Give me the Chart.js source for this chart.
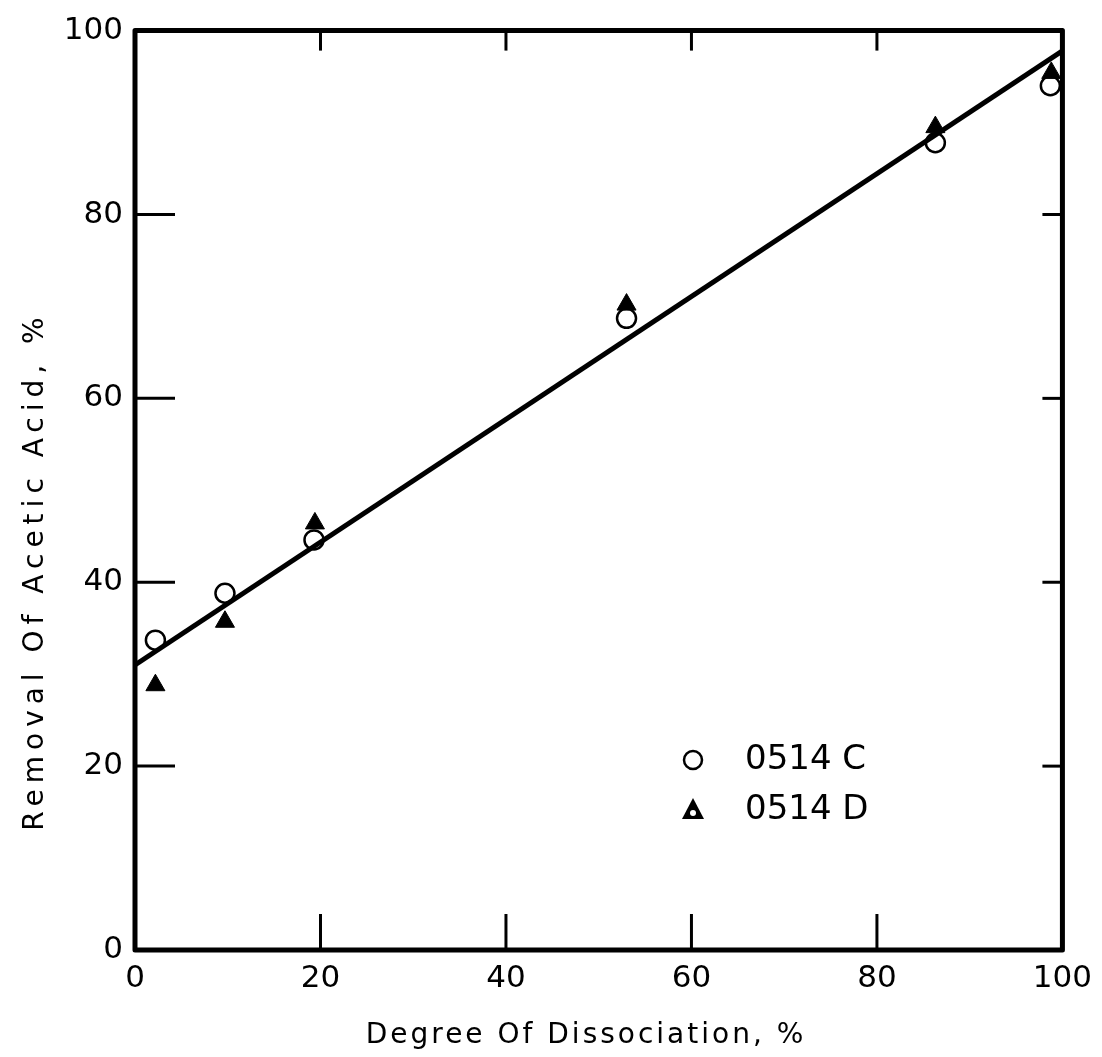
<!DOCTYPE html>
<html><head><meta charset="utf-8">
<script src="https://cdn.jsdelivr.net/npm/chart.js@4"></script>
<style>html,body{margin:0;padding:0;background:#fff}</style>
</head><body>
<canvas id="c" width="1102" height="1057"></canvas>
<script>
const dissocC  = [2.2, 9.7, 19.3, 53.0, 86.3, 98.7];
const removalC = [33.7, 38.8, 44.6, 68.7, 87.8, 94.0];
const dissocD  = [2.2, 9.7, 19.4, 53.0, 86.3, 98.8];
const removalD = [28.8, 35.7, 46.4, 70.2, 89.5, 95.4];
const fitX = [0, 100];
const fitY = [31.0, 97.8];
const xTicks = [0, 20, 40, 60, 80, 100];
const yTicks = [0, 20, 40, 60, 80, 100];
const seriesLabels = ['0514 C', '0514 D'];
const xTitle = 'Degree Of Dissociation, %';
const yTitle = 'Removal Of Acetic Acid, %';

const FONT = '"DejaVu Sans", sans-serif';
const pts = (xs, ys) => xs.map((x, i) => ({x, y: ys[i]}));

const framePlugin = {
  id: 'frame',
  afterDraw(chart) {
    const {ctx, chartArea: a, scales: {x, y}} = chart;
    ctx.save();
    ctx.strokeStyle = '#000';
    ctx.lineWidth = 3;
    xTicks.slice(1, -1).forEach(v => {
      const px = x.getPixelForValue(v);
      ctx.beginPath(); ctx.moveTo(px, a.bottom); ctx.lineTo(px, a.bottom - 36); ctx.stroke();
      ctx.beginPath(); ctx.moveTo(px, a.top); ctx.lineTo(px, a.top + 20); ctx.stroke();
    });
    yTicks.slice(1, -1).forEach(v => {
      const py = y.getPixelForValue(v);
      ctx.beginPath(); ctx.moveTo(a.left, py); ctx.lineTo(a.left + 40, py); ctx.stroke();
      ctx.beginPath(); ctx.moveTo(a.right, py); ctx.lineTo(a.right - 20, py); ctx.stroke();
    });
    ctx.lineWidth = 5;
    ctx.lineJoin = 'round';
    ctx.strokeRect(a.left, a.top, a.right - a.left, a.bottom - a.top);
    // axis titles (letter-spaced, as in the original)
    ctx.fillStyle = '#000';
    ctx.font = '28px ' + FONT;
    ctx.textAlign = 'center';
    ctx.textBaseline = 'alphabetic';
    ctx.letterSpacing = '3px';
    ctx.fillText(xTitle, 586, 1043);
    ctx.save();
    ctx.translate(43, 571);
    ctx.rotate(-Math.PI / 2);
    ctx.letterSpacing = '6px';
    ctx.fillText(yTitle, 0, 0);
    ctx.restore();
    ctx.letterSpacing = '0px';
    // legend
    const lx = 693, ly = [760, 810];
    ctx.lineWidth = 2.5;
    ctx.beginPath(); ctx.arc(lx, ly[0], 9, 0, Math.PI * 2); ctx.stroke();
    ctx.beginPath(); ctx.moveTo(lx, ly[1] - 12); ctx.lineTo(lx + 11, ly[1] + 9); ctx.lineTo(lx - 11, ly[1] + 9); ctx.closePath(); ctx.fill();
    ctx.fillStyle = '#fff';
    ctx.beginPath(); ctx.arc(lx, ly[1] + 3, 3, 0, Math.PI * 2); ctx.fill();
    ctx.fillStyle = '#000';
    ctx.font = '34px ' + FONT;
    ctx.textBaseline = 'middle';
    ctx.textAlign = 'left';
    ctx.fillText(seriesLabels[0], 745, ly[0]);
    ctx.fillText(seriesLabels[1], 745, ly[1]);
    ctx.restore();
  }
};

new Chart(document.getElementById('c'), {
  type: 'scatter',
  data: {
    datasets: [
      {
        type: 'line', data: pts(fitX, fitY), borderColor: '#000', borderWidth: 5,
        pointRadius: 0, fill: false, order: 3
      },
      {
        label: seriesLabels[1], data: pts(dissocD, removalD), pointStyle: 'triangle',
        pointRadius: 11, backgroundColor: '#000', borderColor: '#000', borderWidth: 1, order: 2
      },
      {
        label: seriesLabels[0], data: pts(dissocC, removalC), pointStyle: 'circle',
        pointRadius: 9.5, backgroundColor: 'rgba(255,255,255,0)', borderColor: '#000', borderWidth: 2.5, order: 1
      }
    ]
  },
  options: {
    responsive: false, animation: false, devicePixelRatio: 1,
    layout: {padding: {top: 30, right: 37, left: 0, bottom: 0}},
    plugins: {legend: {display: false}, tooltip: {enabled: false}},
    scales: {
      x: {
        type: 'linear', min: 0, max: 100,
        afterBuildTicks: s => { s.ticks = xTicks.map(v => ({value: v})); },
        afterFit: s => { s.height = 107; },
        grid: {display: false, drawTicks: false}, border: {display: false},
        ticks: {color: '#000', font: {family: FONT, size: 31}, padding: 10, maxRotation: 0},
        title: {display: false, text: xTitle}
      },
      y: {
        type: 'linear', min: 0, max: 100,
        afterBuildTicks: s => { s.ticks = yTicks.map(v => ({value: v})); },
        afterFit: s => { s.width = 135; },
        grid: {display: false, drawTicks: false}, border: {display: false},
        ticks: {color: '#000', font: {family: FONT, size: 31}, padding: 12},
        title: {display: false, text: yTitle}
      }
    }
  },
  plugins: [framePlugin]
});
</script>
</body></html>
